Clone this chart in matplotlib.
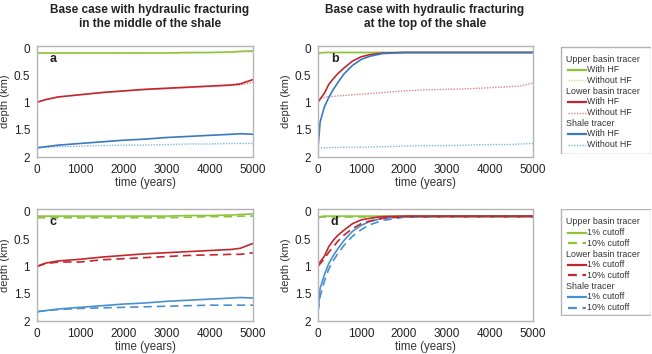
import matplotlib
matplotlib.use("Agg")
import matplotlib.pyplot as plt
from matplotlib.patches import Rectangle

plt.rcParams["font.family"] = ["Liberation Sans", "DejaVu Sans"]

W, H = 652, 354

# time grids (years)
t_slow = [0, 200, 500, 1000, 1500, 2000, 2500, 3000, 3500, 4000, 4500, 4700, 5000]
t_fast = [0, 50, 150, 250, 350, 450, 600, 800, 1000, 1200, 1500, 2000, 3000, 4000, 5000]

# panel a: HF in the middle of the shale (depth, km)
a_upper_hf = [0.08, 0.08, 0.08, 0.08, 0.08, 0.08, 0.08, 0.08, 0.07, 0.07, 0.06, 0.05, 0.04]
a_upper_no = [0.08, 0.08, 0.08, 0.08, 0.08, 0.08, 0.08, 0.08, 0.08, 0.07, 0.07, 0.06, 0.06]
a_lower_hf = [0.99, 0.94, 0.89, 0.85, 0.81, 0.78, 0.75, 0.73, 0.71, 0.69, 0.67, 0.65, 0.57]
a_lower_no = [0.99, 0.94, 0.89, 0.85, 0.81, 0.78, 0.76, 0.74, 0.72, 0.70, 0.68, 0.67, 0.62]
a_shale_hf = [1.83, 1.81, 1.78, 1.75, 1.72, 1.69, 1.67, 1.64, 1.62, 1.60, 1.58, 1.57, 1.58]
a_shale_no = [1.83, 1.82, 1.81, 1.80, 1.79, 1.78, 1.78, 1.77, 1.76, 1.76, 1.75, 1.75, 1.75]

# panel b: HF at the top of the shale
b_upper_hf = [0.10, 0.08, 0.07, 0.07, 0.07, 0.07, 0.07, 0.07, 0.07, 0.07, 0.07, 0.07, 0.07, 0.07, 0.07]
b_upper_no = [0.07, 0.07, 0.07, 0.07, 0.07, 0.07, 0.07, 0.07, 0.07, 0.07, 0.07, 0.07, 0.07, 0.07, 0.07]
b_lower_hf = [0.99, 0.93, 0.82, 0.66, 0.56, 0.47, 0.36, 0.23, 0.15, 0.11, 0.08, 0.07, 0.07, 0.07, 0.07]
b_shale_hf = [1.83, 1.35, 1.07, 0.90, 0.76, 0.64, 0.47, 0.31, 0.20, 0.14, 0.09, 0.07, 0.07, 0.07, 0.07]
b_lower_no = [0.93, 0.89, 0.87, 0.84, 0.81, 0.78, 0.76, 0.75, 0.74, 0.72, 0.70, 0.69, 0.63]
b_shale_no = [1.83, 1.83, 1.82, 1.82, 1.81, 1.80, 1.79, 1.79, 1.78, 1.77, 1.77, 1.76, 1.75]

# panel c: middle of shale, 1% vs 10% cutoff
c_upper_1 = a_upper_hf
c_upper_10 = [0.11, 0.11, 0.11, 0.11, 0.11, 0.11, 0.11, 0.11, 0.10, 0.09, 0.09, 0.08, 0.08]
c_lower_1 = [1.0, 0.94, 0.90, 0.87, 0.83, 0.80, 0.77, 0.75, 0.73, 0.71, 0.69, 0.67, 0.58]
c_lower_10 = [1.0, 0.95, 0.92, 0.92, 0.88, 0.86, 0.84, 0.82, 0.80, 0.79, 0.78, 0.78, 0.75]
c_shale_1 = a_shale_hf
c_shale_10 = [1.83, 1.81, 1.79, 1.77, 1.76, 1.75, 1.74, 1.73, 1.72, 1.71, 1.71, 1.71, 1.71]

# panel d: top of shale, 1% vs 10% cutoff
d_upper_1 = [0.12, 0.09, 0.08, 0.08, 0.08, 0.08, 0.08, 0.08, 0.08, 0.08, 0.08, 0.08, 0.08, 0.08, 0.08]
d_upper_10 = [0.10, 0.10, 0.10, 0.10, 0.10, 0.10, 0.10, 0.10, 0.10, 0.10, 0.10, 0.10, 0.10, 0.10, 0.10]
d_lower_1 = [0.99, 0.92, 0.81, 0.64, 0.53, 0.44, 0.34, 0.22, 0.15, 0.12, 0.09, 0.08, 0.08, 0.08, 0.08]
d_lower_10 = [1.0, 0.95, 0.86, 0.74, 0.65, 0.55, 0.43, 0.31, 0.22, 0.17, 0.12, 0.09, 0.09, 0.09, 0.09]
d_shale_1 = [1.83, 1.40, 1.15, 0.95, 0.81, 0.69, 0.53, 0.36, 0.25, 0.18, 0.12, 0.09, 0.08, 0.08, 0.08]
d_shale_10 = [1.83, 1.55, 1.27, 1.05, 0.90, 0.78, 0.62, 0.45, 0.33, 0.24, 0.16, 0.10, 0.09, 0.09, 0.09]

GREEN = "#8cc43c"
GREEN_L = "#c8dc8a"
RED = "#c0282e"
RED_L = "#d9868a"
BLUE = "#3a78c0"
BLUE_L = "#80b8e0"
BLUE_D = "#4a90d0"

SOLID = dict(lw=1.2, ls="-")
DOT = dict(lw=1.0, ls=(0, (1, 1)))
DASH = dict(lw=1.2, ls=(0, (5, 3)))

fig = plt.figure(figsize=(W / 100, H / 100), dpi=100)


def px_axes(left, right, top, bottom):
    return fig.add_axes([left / W, 1 - bottom / H, (right - left) / W, (bottom - top) / H])


def style(ax, letter):
    ax.set_xlim(0, 5000)
    ax.set_ylim(2, -0.05)
    ax.set_xticks([0, 1000, 2000, 3000, 4000, 5000])
    ax.set_yticks([0, 0.5, 1, 1.5, 2])
    ax.set_yticklabels(["0", "0.5", "1", "1.5", "2"])
    ax.tick_params(length=0, labelsize=8.5, colors="#222222", pad=5)
    for s in ax.spines.values():
        s.set_color("#b4b4b4")
        s.set_linewidth(1.0)
    ax.set_ylabel("depth (km)", fontsize=8, color="#333333", labelpad=2.5)
    ax.set_xlabel("time (years)", fontsize=8.3, color="#333333", labelpad=1)
    ax.text(0.06, 0.86, letter, transform=ax.transAxes, fontsize=9,
            fontweight="bold", color="#222222")


ax_a = px_axes(37, 253, 46, 157)
ax_b = px_axes(318, 533, 46, 157)
ax_c = px_axes(37, 253, 209, 321)
ax_d = px_axes(318, 533, 209, 321)

# a
ax_a.plot(t_slow, a_upper_no, color=GREEN_L, **DOT)
ax_a.plot(t_slow, a_upper_hf, color=GREEN, **SOLID)
ax_a.plot(t_slow, a_lower_no, color=RED_L, **DOT)
ax_a.plot(t_slow, a_lower_hf, color=RED, **SOLID)
ax_a.plot(t_slow, a_shale_no, color=BLUE_L, **DOT)
ax_a.plot(t_slow, a_shale_hf, color=BLUE, **SOLID)
style(ax_a, "a")

# b
ax_b.plot(t_fast, b_upper_no, color=GREEN_L, **DOT)
ax_b.plot(t_fast, b_upper_hf, color=GREEN, **SOLID)
ax_b.plot(t_slow, b_lower_no, color=RED_L, **DOT)
ax_b.plot(t_slow, b_shale_no, color=BLUE_L, **DOT)
ax_b.plot(t_fast, b_lower_hf, color=RED, **SOLID)
ax_b.plot(t_fast, b_shale_hf, color=BLUE, **SOLID)
style(ax_b, "b")

# c
ax_c.plot(t_slow, c_upper_1, color=GREEN, **SOLID)
ax_c.plot(t_slow, c_upper_10, color=GREEN, **DASH)
ax_c.plot(t_slow, c_lower_1, color=RED, **SOLID)
ax_c.plot(t_slow, c_lower_10, color=RED, **DASH)
ax_c.plot(t_slow, c_shale_1, color=BLUE_D, **SOLID)
ax_c.plot(t_slow, c_shale_10, color=BLUE_D, **DASH)
style(ax_c, "c")

# d
ax_d.plot(t_fast, d_upper_1, color=GREEN, **SOLID)
ax_d.plot(t_fast, d_upper_10, color=GREEN, **DASH)
ax_d.plot(t_fast, d_shale_1, color=BLUE_D, **SOLID)
ax_d.plot(t_fast, d_shale_10, color=BLUE_D, **DASH)
ax_d.plot(t_fast, d_lower_1, color=RED, **SOLID)
ax_d.plot(t_fast, d_lower_10, color=RED, **DASH)
style(ax_d, "d")

# titles
fig.text(150 / W, 1 - 17 / H, "Base case with hydraulic fracturing\nin the middle of the shale",
         ha="center", va="center", fontsize=8.5, fontweight="bold", color="#222222",
         linespacing=1.3)
fig.text(425 / W, 1 - 17 / H, "Base case with hydraulic fracturing\nat the top of the shale",
         ha="center", va="center", fontsize=8.5, fontweight="bold", color="#222222",
         linespacing=1.3)


def legend_box(top, bottom, entries):
    lax = px_axes(560, 651, top, bottom)
    lax.set_xlim(560, 651)
    lax.set_ylim(bottom, top)
    lax.axis("off")
    lax.add_patch(Rectangle((560.5, top + 0.5), 90, bottom - top - 1, fill=False,
                            ec="#b4b4b4", lw=1.0))
    y = top + 13
    for kind, label, color, st in entries:
        if kind == "h":
            lax.text(566, y, label, fontsize=6.4, va="center", ha="left", color="#333333")
        else:
            lax.plot([568, 586], [y, y], color=color, **st)
            lax.text(587, y, label, fontsize=6.4, va="center", ha="left", color="#333333")
        y += 10.7


legend_box(46, 154, [
    ("h", "Upper basin tracer", None, None),
    ("l", "With HF", GREEN, dict(lw=1.6, ls="-")),
    ("l", "Without HF", GREEN_L, DOT),
    ("h", "Lower basin tracer", None, None),
    ("l", "With HF", RED, dict(lw=1.6, ls="-")),
    ("l", "Without HF", RED_L, DOT),
    ("h", "Shale tracer", None, None),
    ("l", "With HF", BLUE, dict(lw=1.6, ls="-")),
    ("l", "Without HF", BLUE_L, DOT),
])

legend_box(209, 316, [
    ("h", "Upper basin tracer", None, None),
    ("l", "1% cutoff", GREEN, dict(lw=1.6, ls="-")),
    ("l", "10% cutoff", GREEN, dict(lw=1.6, ls=(0, (4, 2.5)))),
    ("h", "Lower basin tracer", None, None),
    ("l", "1% cutoff", RED, dict(lw=1.6, ls="-")),
    ("l", "10% cutoff", RED, dict(lw=1.6, ls=(0, (4, 2.5)))),
    ("h", "Shale tracer", None, None),
    ("l", "1% cutoff", BLUE_D, dict(lw=1.6, ls="-")),
    ("l", "10% cutoff", BLUE_D, dict(lw=1.6, ls=(0, (4, 2.5)))),
])

fig.savefig("out.png", dpi=100)
